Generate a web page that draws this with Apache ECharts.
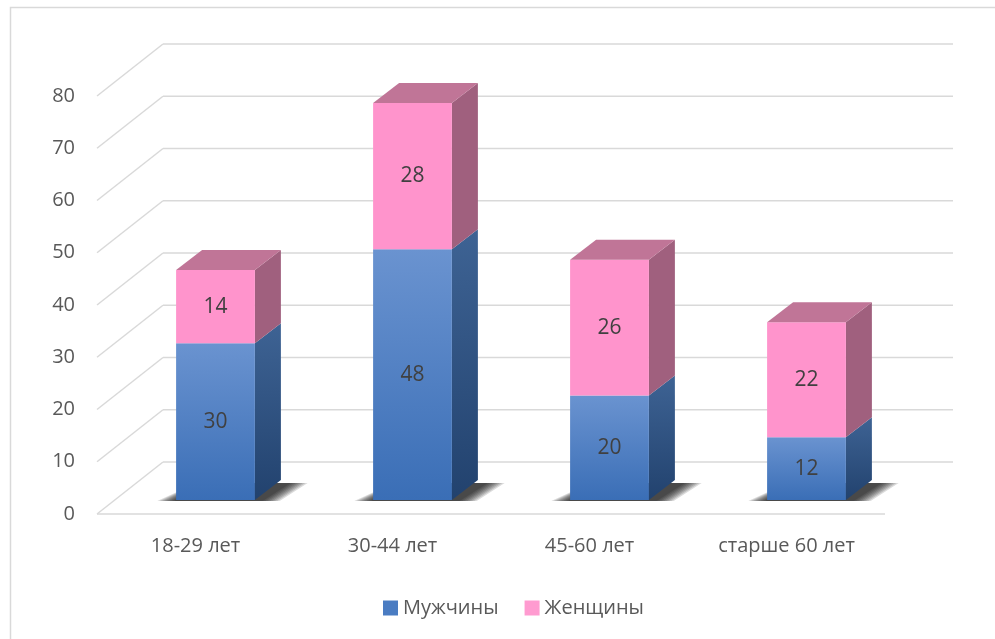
<!DOCTYPE html>
<html>
<head>
<meta charset="utf-8">
<script src="https://cdn.jsdelivr.net/npm/echarts@6/dist/echarts.min.js"></script>
<style>
  html, body { margin: 0; padding: 0; background: #fff; }
  #chart { width: 995px; height: 639px; }
</style>
</head>
<body>
<div id="chart"></div>
<script>
var categories = ['18-29 лет', '30-44 лет', '45-60 лет', 'старше 60 лет'];
var men = [30, 48, 20, 12];
var women = [14, 28, 26, 22];
var gridTicks = [0, 10, 20, 30, 40, 50, 60, 70, 80];

// fake 3d: offsets from the front plane
var BAR_OFF = [20, -14];
var DEPTH = [26, -20];
var WALL = [66, -52];

var myChart = echarts.init(document.getElementById('chart'));

function gradient(c1, c2) {
    return new echarts.graphic.LinearGradient(0, 0, 0, 1, [
        { offset: 0, color: c1 },
        { offset: 1, color: c2 }
    ]);
}

function boxRenderer(colors, isBottom, isTop) {
    return function (params, api) {
        var idx = api.value(0);
        var base = api.value(1);
        var top = api.value(2);
        var p0 = api.coord([idx, base]);
        var p1 = api.coord([idx, top]);
        var w = api.size([1, 0])[0] * 0.4;
        var x0 = p0[0] - w / 2 + BAR_OFF[0];
        var x1 = x0 + w;
        var yb = p0[1] + BAR_OFF[1];
        var yt = p1[1] + BAR_OFF[1];
        var dx = DEPTH[0], dy = DEPTH[1];
        var children = [];
        if (isBottom) {
            // floor shadow faked with stacked translucent layers
            for (var k = 0; k < 8; k++) {
                var e = 2 + 2.4 * k;
                children.push({
                    type: 'polygon',
                    shape: { points: [
                        [x0 - e, yb + 1],
                        [x1 + 6 + e, yb + 1],
                        [x1 + dx + 8 + e, yb + dy + 3],
                        [x0 + dx - e * 0.3, yb + dy + 3]
                    ] },
                    style: { fill: 'rgba(0,0,0,0.14)' }
                });
            }
        }
        children.push({
            type: 'polygon',
            shape: { points: [[x1, yb], [x1 + dx, yb + dy], [x1 + dx, yt + dy], [x1, yt]] },
            style: { fill: colors.side }
        });
        children.push({
            type: 'rect',
            shape: { x: x0, y: yt, width: w, height: yb - yt },
            style: { fill: colors.front }
        });
        if (isTop) {
            children.push({
                type: 'polygon',
                shape: { points: [[x0, yt], [x1, yt], [x1 + dx, yt + dy], [x0 + dx, yt + dy]] },
                style: { fill: colors.top }
            });
        }
        children.push({
            type: 'text',
            style: {
                text: String(top - base),
                x: (x0 + x1) / 2,
                y: (yt + yb) / 2,
                align: 'center',
                verticalAlign: 'middle',
                fontFamily: 'Open Sans',
                fontSize: 21,
                fill: '#404040'
            }
        });
        return { type: 'group', children: children };
    };
}

function wallRenderer(params, api) {
    var cs = params.coordSys;
    var v = api.value(0);
    var p = api.coord([0, v]);
    var y = p[1];
    var xl = cs.x;
    var xr = cs.x + cs.width;
    var style = { stroke: '#d9d9d9', lineWidth: 1.5 };
    var children = [
        { type: 'line', shape: { x1: xl, y1: y, x2: xl + WALL[0], y2: y + WALL[1] }, style: style },
        { type: 'line', shape: { x1: xl + WALL[0], y1: y + WALL[1], x2: xr + WALL[0] + 2, y2: y + WALL[1] }, style: style }
    ];
    if (v === 0) {
        children.push({ type: 'line', shape: { x1: xl, y1: y, x2: xr, y2: y }, style: style });
    }
    return { type: 'group', children: children };
}

var menData = [];
var womenData = [];
for (var i = 0; i < categories.length; i++) {
    menData.push([i, 0, men[i]]);
    womenData.push([i, men[i], men[i] + women[i]]);
}

var menColors = {
    front: gradient('#6a93d0', '#3a6eb6'),
    side: gradient('#3e6394', '#22426e'),
    top: '#5a86c6'
};
var womenColors = {
    front: '#ff94cc',
    side: '#a0607e',
    top: '#c07597'
};

option = {
    backgroundColor: '#fff',
    animation: false,
    graphic: [{
        type: 'rect',
        shape: { x: 10.5, y: 7.5, width: 1000, height: 700 },
        style: { fill: 'none', stroke: '#d9d9d9', lineWidth: 1.5 },
        z: 0
    }],
    grid: { left: 97, top: 96, width: 788, height: 418 },
    legend: {
        data: ['Мужчины', 'Женщины'],
        top: 593,
        left: 378,
        icon: 'rect',
        itemWidth: 15,
        itemHeight: 15,
        itemGap: 26,
        textStyle: { fontFamily: 'Open Sans', fontSize: 20, color: '#595959' }
    },
    xAxis: {
        type: 'category',
        data: categories,
        axisLine: { show: false },
        axisTick: { show: false },
        axisLabel: { fontFamily: 'Open Sans', fontSize: 20, color: '#595959', margin: 22 }
    },
    yAxis: {
        type: 'value',
        min: 0,
        max: 80,
        interval: 10,
        axisLine: { show: false },
        axisTick: { show: false },
        splitLine: { show: false },
        axisLabel: { fontFamily: 'Open Sans', fontSize: 20, color: '#595959', margin: 22 }
    },
    series: [
        {
            type: 'custom',
            name: 'walls',
            data: gridTicks.map(function (t) { return [t]; }),
            renderItem: wallRenderer,
            silent: true,
            z: 1
        },
        {
            type: 'custom',
            name: 'Мужчины',
            data: menData,
            itemStyle: { color: '#4a7cc2' },
            renderItem: boxRenderer(menColors, true, false),
            z: 2
        },
        {
            type: 'custom',
            name: 'Женщины',
            data: womenData,
            itemStyle: { color: '#ff9bd0' },
            renderItem: boxRenderer(womenColors, false, true),
            z: 3
        }
    ]
};
myChart.setOption(option);
</script>
</body>
</html>
